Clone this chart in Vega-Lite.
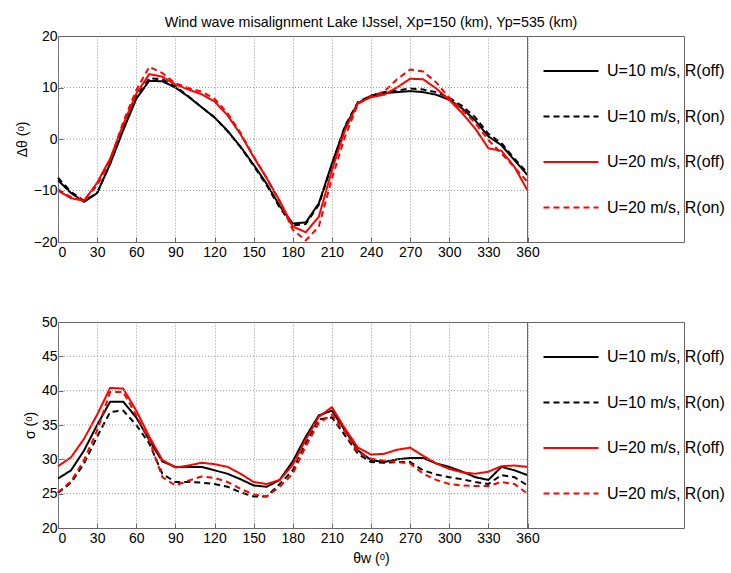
{
  "$schema": "https://vega.github.io/schema/vega-lite/v6.json",
  "padding": {"left": 14, "top": 15, "right": 0, "bottom": 0},
  "spacing": 54,
  "config": {
    "font": "Liberation Sans",
    "view": {"stroke": "#666666", "strokeWidth": 1},
    "axis": {"labelFontSize": 14, "titleFontSize": 14, "titleFontWeight": "normal", "labelColor": "#000000", "titleColor": "#000000", "domain": false, "tickColor": "#666666", "tickSize": -5, "labelPadding": 8, "labelOverlap": false},
    "axisX": {"grid": true, "gridDash": [1, 2], "gridColor": "#999999"},
    "axisY": {"grid": false, "labelPadding": 6},
    "legend": {"labelFontSize": 16, "labelColor": "#000000"},
    "title": {"fontSize": 14.3, "fontWeight": "normal", "color": "#000000"}
  },
  "datasets": {
    "dtheta": [
      {"theta": 0, "a": -8, "b": -7.5, "c": -10, "d": -9.8},
      {"theta": 10, "a": -10.5, "b": -10.3, "c": -11.5, "d": -11.3},
      {"theta": 20, "a": -12.2, "b": -12, "c": -12, "d": -11.8},
      {"theta": 30, "a": -10.5, "b": -10.5, "c": -8.5, "d": -9},
      {"theta": 40, "a": -4.8, "b": -4.8, "c": -3.8, "d": -4.2},
      {"theta": 50, "a": 1.7, "b": 2, "c": 2.8, "d": 3.3},
      {"theta": 60, "a": 7.8, "b": 8.2, "c": 8.8, "d": 9.5},
      {"theta": 70, "a": 11.3, "b": 11.8, "c": 12.6, "d": 14},
      {"theta": 80, "a": 11.2, "b": 11.6, "c": 12.1, "d": 12.8},
      {"theta": 90, "a": 10, "b": 10.2, "c": 10.6, "d": 10.8},
      {"theta": 100, "a": 8.2, "b": 8.3, "c": 9.6, "d": 9.9},
      {"theta": 110, "a": 6.2, "b": 6.2, "c": 8.7, "d": 9.2},
      {"theta": 120, "a": 4.2, "b": 4.2, "c": 7.3, "d": 7.8},
      {"theta": 130, "a": 1.6, "b": 1.5, "c": 4.6, "d": 5},
      {"theta": 140, "a": -1.5, "b": -1.6, "c": 0.9, "d": 1.2},
      {"theta": 150, "a": -5, "b": -5.2, "c": -3.5, "d": -3.4},
      {"theta": 160, "a": -8.7, "b": -9, "c": -7.6, "d": -7.6},
      {"theta": 170, "a": -13, "b": -13.3, "c": -12, "d": -12.2},
      {"theta": 180, "a": -16.4, "b": -16.8, "c": -17, "d": -17.6},
      {"theta": 190, "a": -16.2, "b": -16.5, "c": -18.1, "d": -19.7},
      {"theta": 200, "a": -12.5, "b": -12.8, "c": -15.1, "d": -17},
      {"theta": 210, "a": -4.8, "b": -5, "c": -6.1, "d": -7.7},
      {"theta": 220, "a": 2.3, "b": 2.5, "c": 1.7, "d": 0.4},
      {"theta": 230, "a": 7, "b": 7.2, "c": 7, "d": 6.8},
      {"theta": 240, "a": 8.4, "b": 8.4, "c": 8.1, "d": 8.3},
      {"theta": 250, "a": 8.9, "b": 9.1, "c": 8.6, "d": 9.2},
      {"theta": 260, "a": 9.1, "b": 9.4, "c": 10, "d": 11.6},
      {"theta": 270, "a": 9.3, "b": 9.8, "c": 11.7, "d": 13.5},
      {"theta": 280, "a": 9.1, "b": 9.6, "c": 11.6, "d": 13.1},
      {"theta": 290, "a": 8.6, "b": 9.1, "c": 9.8, "d": 11},
      {"theta": 300, "a": 7.6, "b": 8, "c": 7.6, "d": 8},
      {"theta": 310, "a": 5.9, "b": 6.4, "c": 5, "d": 5.6},
      {"theta": 320, "a": 3.6, "b": 4.2, "c": 2, "d": 3.1},
      {"theta": 330, "a": 0.5, "b": 1, "c": -1.8, "d": -0.2},
      {"theta": 340, "a": -1.2, "b": -0.8, "c": -2.3, "d": -2.8},
      {"theta": 350, "a": -4.1, "b": -3.8, "c": -5.4, "d": -5.5},
      {"theta": 360, "a": -7, "b": -6.6, "c": -10, "d": -8.3}
    ],
    "sigma": [
      {"theta": 0, "a": 27.2, "b": 25.1, "c": 29.0, "d": 25.2},
      {"theta": 10, "a": 28.4, "b": 26.6, "c": 30.3, "d": 26.8},
      {"theta": 20, "a": 31.3, "b": 29.4, "c": 33.0, "d": 29.9},
      {"theta": 30, "a": 35.0, "b": 33.3, "c": 36.5, "d": 34.2},
      {"theta": 40, "a": 38.4, "b": 36.9, "c": 40.4, "d": 39.8},
      {"theta": 50, "a": 38.4, "b": 37.1, "c": 40.3, "d": 39.8},
      {"theta": 60, "a": 36.1, "b": 35.0, "c": 37.1, "d": 36.4},
      {"theta": 70, "a": 32.8, "b": 32.3, "c": 33.3, "d": 32.8},
      {"theta": 80, "a": 29.7, "b": 27.9, "c": 29.9, "d": 27.4},
      {"theta": 90, "a": 28.9, "b": 26.7, "c": 28.8, "d": 26.2},
      {"theta": 100, "a": 28.9, "b": 26.7, "c": 29.1, "d": 26.9},
      {"theta": 110, "a": 28.9, "b": 26.6, "c": 29.5, "d": 27.5},
      {"theta": 120, "a": 28.4, "b": 26.4, "c": 29.3, "d": 27.3},
      {"theta": 130, "a": 27.9, "b": 26.0, "c": 28.9, "d": 26.7},
      {"theta": 140, "a": 27.1, "b": 25.2, "c": 27.9, "d": 25.7},
      {"theta": 150, "a": 26.2, "b": 24.6, "c": 26.7, "d": 24.9},
      {"theta": 160, "a": 26.0, "b": 24.6, "c": 26.4, "d": 24.6},
      {"theta": 170, "a": 27.0, "b": 26.4, "c": 27.0, "d": 26.0},
      {"theta": 180, "a": 29.7, "b": 28.4, "c": 29.2, "d": 27.9},
      {"theta": 190, "a": 33.3, "b": 32.4, "c": 32.9, "d": 31.9},
      {"theta": 200, "a": 36.4, "b": 35.8, "c": 36.2, "d": 35.3},
      {"theta": 210, "a": 37.1, "b": 36.1, "c": 37.6, "d": 36.5},
      {"theta": 220, "a": 34.2, "b": 33.5, "c": 34.5, "d": 34.0},
      {"theta": 230, "a": 31.3, "b": 30.8, "c": 31.7, "d": 31.0},
      {"theta": 240, "a": 29.9, "b": 29.6, "c": 30.7, "d": 30.1},
      {"theta": 250, "a": 29.6, "b": 29.5, "c": 30.8, "d": 29.8},
      {"theta": 260, "a": 30.0, "b": 29.6, "c": 31.4, "d": 29.6},
      {"theta": 270, "a": 30.2, "b": 29.6, "c": 31.7, "d": 29.4},
      {"theta": 280, "a": 30.2, "b": 28.4, "c": 30.5, "d": 27.9},
      {"theta": 290, "a": 29.4, "b": 27.8, "c": 29.4, "d": 27.0},
      {"theta": 300, "a": 28.9, "b": 27.4, "c": 28.6, "d": 26.4},
      {"theta": 310, "a": 28.2, "b": 27.1, "c": 28.1, "d": 26.2},
      {"theta": 320, "a": 27.4, "b": 26.7, "c": 27.9, "d": 26.1},
      {"theta": 330, "a": 27.0, "b": 26.4, "c": 28.2, "d": 26.1},
      {"theta": 340, "a": 28.9, "b": 27.7, "c": 29.0, "d": 26.7},
      {"theta": 350, "a": 28.4, "b": 27.4, "c": 29.1, "d": 26.4},
      {"theta": 360, "a": 27.7, "b": 26.2, "c": 28.9, "d": 25.0}
    ]
  },
  "vconcat": [
    {
      "title": {"text": "Wind wave misalignment Lake IJssel, Xp=150 (km), Yp=535 (km)", "anchor": "middle", "frame": "group", "offset": -1},
      "width": 626,
      "height": 206,
      "layer": [
        {
          "data": {"name": "dtheta"},
          "transform": [{"fold": ["a", "b", "c", "d"], "as": ["series", "value"]}],
          "mark": {"type": "line", "strokeWidth": 2},
          "encoding": {
            "x": {"field": "theta", "type": "quantitative", "title": null, "scale": {"domain": [0, 480], "nice": false},
              "axis": {"title": null, "labelOverlap": false, "values": [0, 30, 60, 90, 120, 150, 180, 210, 240, 270, 300, 330, 360]}},
            "y": {"field": "value", "type": "quantitative", "title": "Δθ (ᵒ)", "scale": {"domain": [-20, 20], "nice": false},
              "axis": {"title": "Δθ (ᵒ)", "labelOverlap": false, "values": [-20, -10, 0, 10, 20]}},
            "color": {"field": "series", "type": "nominal",
              "scale": {"domain": ["a", "b", "c", "d"], "range": ["#000000", "#000000", "#ff0000", "#ff0000"]},
              "legend": {"orient": "none", "legendX": 505, "legendY": 27, "title": null, "padding": 0, "rowPadding": 29.5, "labelOffset": 28, "symbolType": "M-5.5,0H5.5", "symbolSize": 100, "symbolStrokeWidth": 2,
                "labelExpr": "{'a': 'U=10 m/s, R(off)', 'b': 'U=10 m/s, R(on)', 'c': 'U=20 m/s, R(off)', 'd': 'U=20 m/s, R(on)'}[datum.label]"}},
            "strokeDash": {"field": "series", "type": "nominal",
              "scale": {"domain": ["a", "b", "c", "d"], "range": [[1, 0], [6, 4], [1, 0], [6, 4]]},
              "legend": {"orient": "none", "legendX": 505, "legendY": 27, "title": null, "padding": 0, "rowPadding": 29.5, "labelOffset": 28, "symbolType": "M-5.5,0H5.5", "symbolSize": 100, "symbolStrokeWidth": 2,
                "labelExpr": "{'a': 'U=10 m/s, R(off)', 'b': 'U=10 m/s, R(on)', 'c': 'U=20 m/s, R(off)', 'd': 'U=20 m/s, R(on)'}[datum.label]"}}
          }
        },
        {
          "data": {"values": [{"g": -10}, {"g": 0}, {"g": 10}]},
          "mark": {"type": "rule", "color": "#999999", "strokeDash": [1, 2], "strokeWidth": 1},
          "encoding": {
            "y": {"field": "g", "type": "quantitative", "title": "Δθ (ᵒ)", "scale": {"domain": [-20, 20], "nice": false},
              "axis": {"title": "Δθ (ᵒ)", "labelOverlap": false, "values": [-20, -10, 0, 10, 20]}},
            "x": {"datum": 0, "type": "quantitative", "title": null, "scale": {"domain": [0, 480], "nice": false},
              "axis": {"title": null, "labelOverlap": false, "values": [0, 30, 60, 90, 120, 150, 180, 210, 240, 270, 300, 330, 360]}},
            "x2": {"datum": 360}
          }
        },
        {
          "data": {"values": [{"edge": 360}]},
          "mark": {"type": "rule", "color": "#666666", "strokeWidth": 1},
          "encoding": {
            "x": {"field": "edge", "type": "quantitative", "title": null, "scale": {"domain": [0, 480], "nice": false},
              "axis": {"title": null, "labelOverlap": false, "values": [0, 30, 60, 90, 120, 150, 180, 210, 240, 270, 300, 330, 360]}}
          }
        }
      ]
    },
    {
      "width": 626,
      "height": 206,
      "layer": [
        {
          "data": {"name": "sigma"},
          "transform": [{"fold": ["a", "b", "c", "d"], "as": ["series", "value"]}],
          "mark": {"type": "line", "strokeWidth": 2},
          "encoding": {
            "x": {"field": "theta", "type": "quantitative", "title": "θw (ᵒ)", "scale": {"domain": [0, 480], "nice": false},
              "axis": {"title": "θw (ᵒ)", "titlePadding": 6, "labelOverlap": false, "values": [0, 30, 60, 90, 120, 150, 180, 210, 240, 270, 300, 330, 360]}},
            "y": {"field": "value", "type": "quantitative", "title": "σ (ᵒ)", "scale": {"domain": [20, 50], "nice": false},
              "axis": {"title": "σ (ᵒ)", "labelOverlap": false, "tickCount": 7, "values": [20, 25, 30, 35, 40, 45, 50]}},
            "color": {"field": "series", "type": "nominal",
              "scale": {"domain": ["a", "b", "c", "d"], "range": ["#000000", "#000000", "#ff0000", "#ff0000"]},
              "legend": {"orient": "none", "legendX": 505, "legendY": 27, "title": null, "padding": 0, "rowPadding": 29.5, "labelOffset": 28, "symbolType": "M-5.5,0H5.5", "symbolSize": 100, "symbolStrokeWidth": 2,
                "labelExpr": "{'a': 'U=10 m/s, R(off)', 'b': 'U=10 m/s, R(on)', 'c': 'U=20 m/s, R(off)', 'd': 'U=20 m/s, R(on)'}[datum.label]"}},
            "strokeDash": {"field": "series", "type": "nominal",
              "scale": {"domain": ["a", "b", "c", "d"], "range": [[1, 0], [6, 4], [1, 0], [6, 4]]},
              "legend": {"orient": "none", "legendX": 505, "legendY": 27, "title": null, "padding": 0, "rowPadding": 29.5, "labelOffset": 28, "symbolType": "M-5.5,0H5.5", "symbolSize": 100, "symbolStrokeWidth": 2,
                "labelExpr": "{'a': 'U=10 m/s, R(off)', 'b': 'U=10 m/s, R(on)', 'c': 'U=20 m/s, R(off)', 'd': 'U=20 m/s, R(on)'}[datum.label]"}}
          }
        },
        {
          "data": {"values": [{"g": 25}, {"g": 30}, {"g": 35}, {"g": 40}, {"g": 45}]},
          "mark": {"type": "rule", "color": "#999999", "strokeDash": [1, 2], "strokeWidth": 1},
          "encoding": {
            "y": {"field": "g", "type": "quantitative", "title": "σ (ᵒ)", "scale": {"domain": [20, 50], "nice": false},
              "axis": {"title": "σ (ᵒ)", "labelOverlap": false, "tickCount": 7, "values": [20, 25, 30, 35, 40, 45, 50]}},
            "x": {"datum": 0, "type": "quantitative", "title": "θw (ᵒ)", "scale": {"domain": [0, 480], "nice": false},
              "axis": {"title": "θw (ᵒ)", "titlePadding": 6, "labelOverlap": false, "values": [0, 30, 60, 90, 120, 150, 180, 210, 240, 270, 300, 330, 360]}},
            "x2": {"datum": 360}
          }
        },
        {
          "data": {"values": [{"edge": 360}]},
          "mark": {"type": "rule", "color": "#666666", "strokeWidth": 1},
          "encoding": {
            "x": {"field": "edge", "type": "quantitative", "title": "θw (ᵒ)", "scale": {"domain": [0, 480], "nice": false},
              "axis": {"title": "θw (ᵒ)", "titlePadding": 6, "labelOverlap": false, "values": [0, 30, 60, 90, 120, 150, 180, 210, 240, 270, 300, 330, 360]}}
          }
        }
      ]
    }
  ],
  "resolve": {
    "scale": {"y": "independent", "color": "independent", "strokeDash": "independent"},
    "legend": {"color": "independent", "strokeDash": "independent"}
  }
}
